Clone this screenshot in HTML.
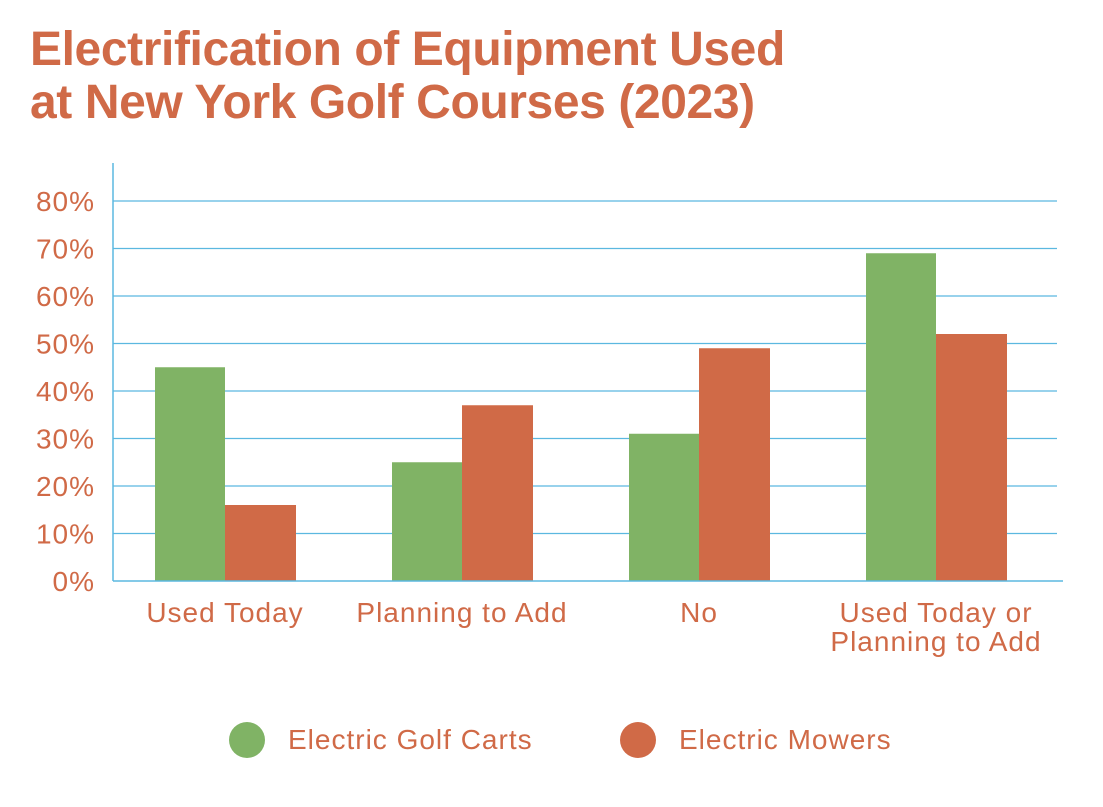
<!DOCTYPE html>
<html><head><meta charset="utf-8"><style>
body{margin:0;background:#fff;width:1103px;height:802px;overflow:hidden;font-family:"Liberation Sans",Arial,sans-serif}
</style></head><body>
<svg width="1103" height="802" xmlns="http://www.w3.org/2000/svg">
<text x="30" y="65" font-size="48" font-weight="bold" fill="#D06A47" letter-spacing="-0.4">Electrification of Equipment Used</text>
<text x="30" y="118" font-size="48" font-weight="bold" fill="#D06A47" letter-spacing="-0.4">at New York Golf Courses (2023)</text>
<g id="grid"></g><g id="bars"></g><g id="labels"></g>
<line x1="113" y1="163" x2="113" y2="581" stroke="#5BB8E0" stroke-width="1.5"/>
<line x1="113" y1="581" x2="1063" y2="581" stroke="#5BB8E0" stroke-width="1.5"/>
<circle cx="247" cy="740" r="18" fill="#80B365"/>
<text x="288" y="749" font-size="28" letter-spacing="1" fill="#D06A47">Electric Golf Carts</text>
<circle cx="638" cy="740" r="18" fill="#D06A47"/>
<text x="679" y="749" font-size="28" letter-spacing="1" fill="#D06A47">Electric Mowers</text>
</svg>
<script>
const categories=[["Used Today"],["Planning to Add"],["No"],["Used Today or","Planning to Add"]];
const carts=[45,25,31,69];
const mowers=[16,37,49,52];
const ticks=[0,10,20,30,40,50,60,70,80];
const NS="http://www.w3.org/2000/svg";
function y(v){return 581-v*4.75;}
function cx(i){return 225+i*237;}
function mk(tag,attrs,parent){const e=document.createElementNS(NS,tag);for(const k in attrs)e.setAttribute(k,attrs[k]);document.getElementById(parent).appendChild(e);return e;}
ticks.forEach(t=>{
 if(t>0){const l=mk('line',{x1:113,x2:1057,y1:y(t),y2:y(t),stroke:'#5BB8E0','stroke-width':1.2},'grid');
 
 }
 const tx=mk('text',{x:95,y:y(t)+10,'font-size':28,'letter-spacing':1,fill:'#D06A47','text-anchor':'end'},'labels');
 tx.textContent=t+'%';
 
 
});
categories.forEach((c,i)=>{
 const g=mk('rect',{x:cx(i)-70,y:y(carts[i]),width:70,height:carts[i]*4.75,fill:'#80B365'},'bars');
 
 
 const m=mk('rect',{x:cx(i),y:y(mowers[i]),width:71,height:mowers[i]*4.75,fill:'#D06A47'},'bars');
 
 
 c.forEach((line,j)=>{
  const t=mk('text',{x:cx(i),y:622+j*29,'font-size':28,'letter-spacing':1,fill:'#D06A47','text-anchor':'middle'},'labels');
  t.textContent=line;
  
  
 });
});
</script>
</body></html>
